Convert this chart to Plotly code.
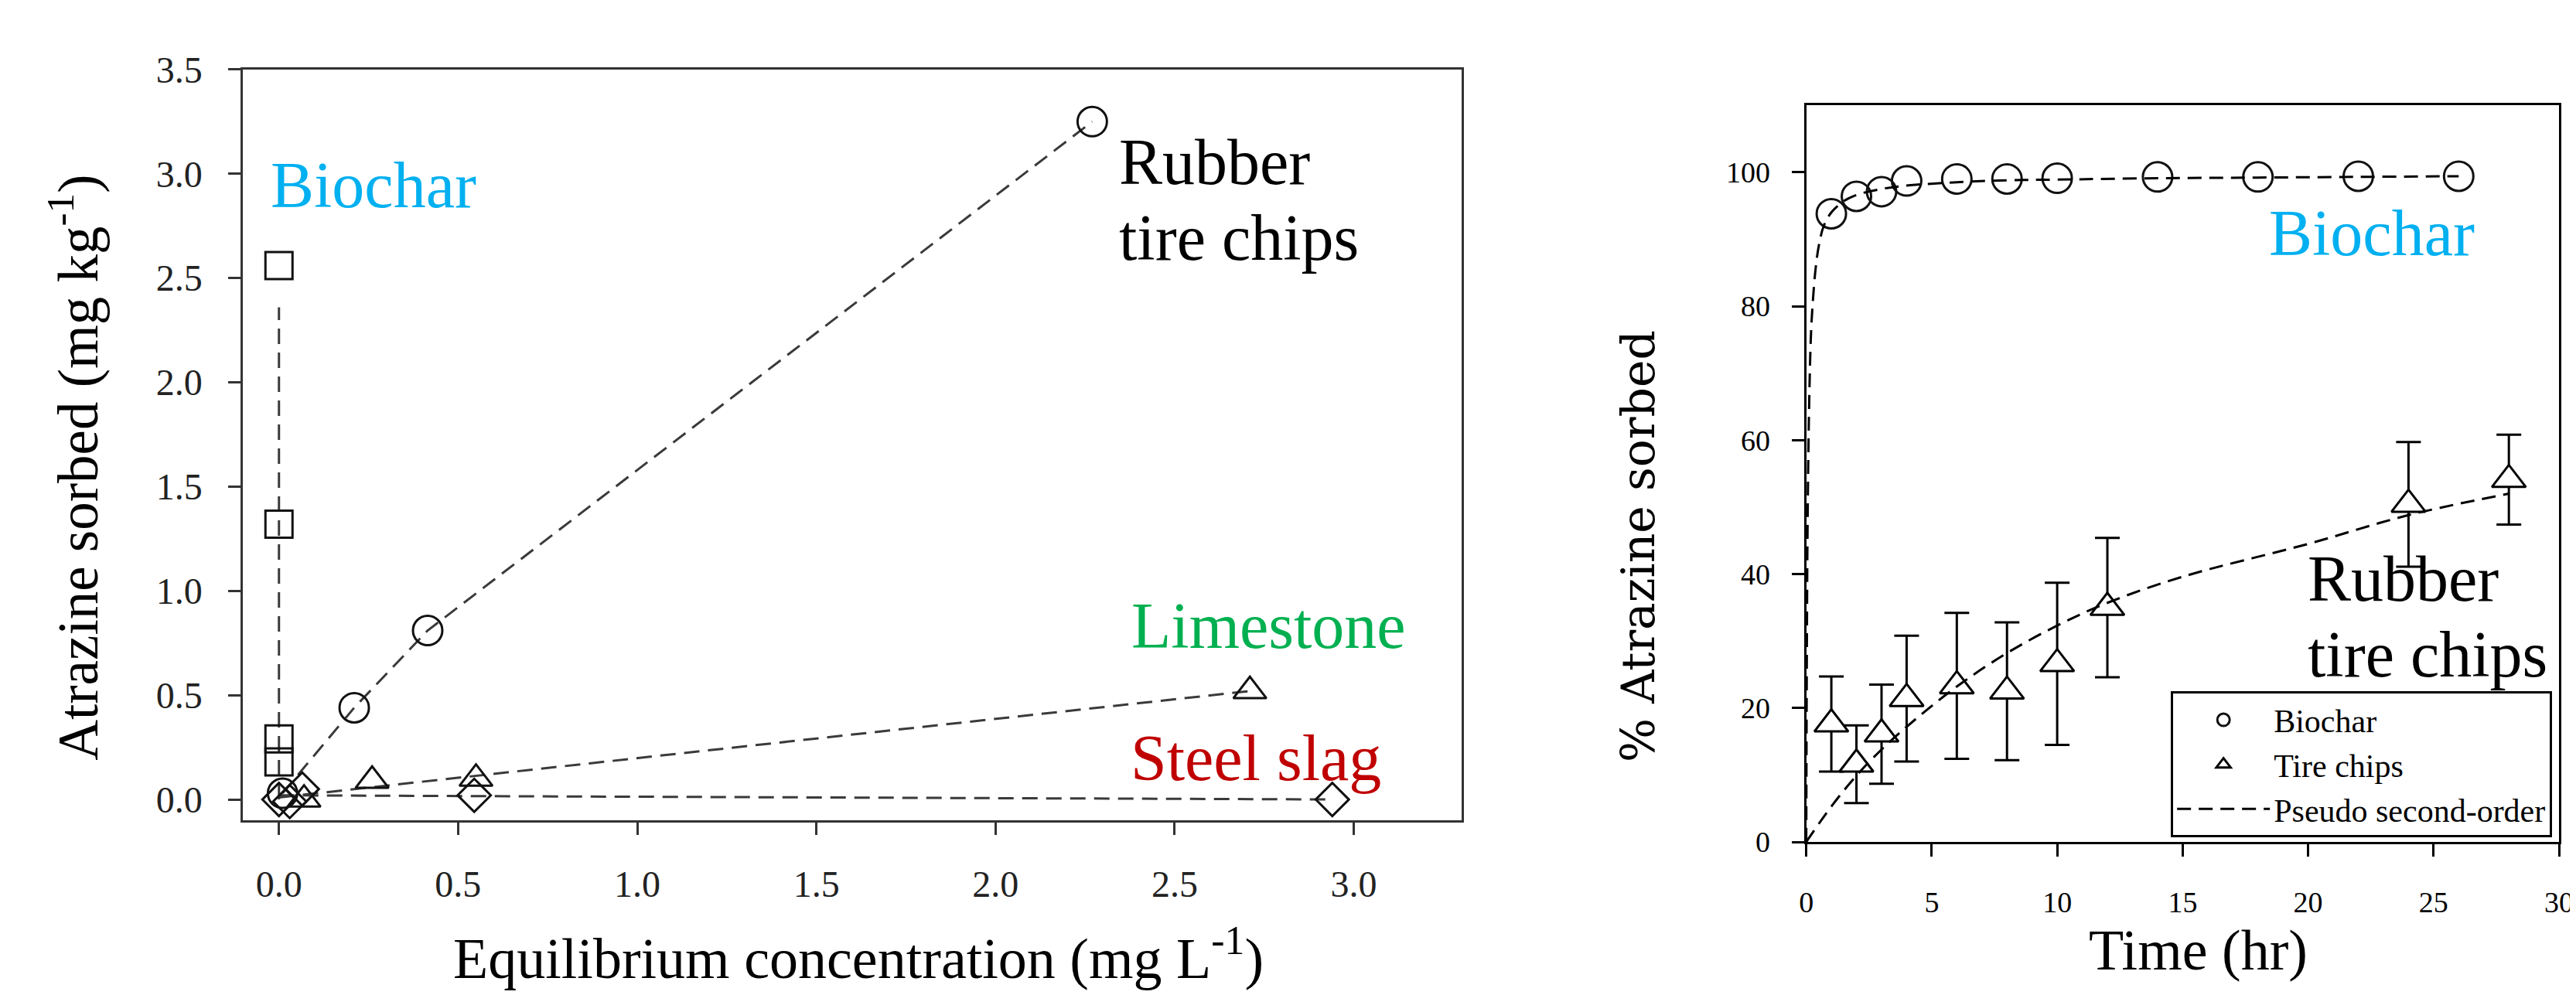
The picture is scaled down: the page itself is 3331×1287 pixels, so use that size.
import plotly.graph_objects as go

W, H = 3331, 1287

# ---------------- Left panel: sorption isotherms ----------------
bio_ce = [0.0, 0.0, 0.0, 0.0]
bio_q = [2.56, 1.32, 0.29, 0.18]
bio_fit_ce = [0.0, 0.0]
bio_fit_q = [0.0, 2.36]

rub_ce = [0.01, 0.21, 0.415, 2.27]
rub_q = [0.03, 0.44, 0.81, 3.25]

lime_ce = [0.07, 0.26, 0.55, 2.71]
lime_q = [0.0, 0.09, 0.10, 0.52]
lime_fit_ce = [0.0, 2.71]
lime_fit_q = [0.01, 0.52]

slag_ce = [0.0, 0.03, 0.065, 0.545, 2.94]
slag_q = [0.0, -0.01, 0.05, 0.02, 0.0]
slag_fit_ce = [0.0, 2.94]
slag_fit_q = [0.02, 0.0]

left_xticks = [0.0, 0.5, 1.0, 1.5, 2.0, 2.5, 3.0]
left_yticks = [0.0, 0.5, 1.0, 1.5, 2.0, 2.5, 3.0, 3.5]

# ---------------- Right panel: kinetics ----------------
t_bio = [1, 2, 3, 4, 6, 8, 10, 14, 18, 22, 26]
pct_bio = [93.8, 96.4, 97.1, 98.7, 99.0, 99.0, 99.1, 99.3, 99.3, 99.4, 99.4]

t_tire = [1, 2, 3, 4, 6, 8, 10, 12, 24, 28]
pct_tire = [17.6, 11.6, 16.1, 21.4, 23.3, 22.5, 26.6, 35.0, 50.4, 54.1]
err_tire = [7.1, 5.8, 7.4, 9.4, 10.9, 10.3, 12.1, 10.4, 9.3, 6.7]

t_bio_fit = [0, 0.02, 0.05, 0.1, 0.18, 0.25, 0.37, 0.5, 0.7, 1, 1.5, 2, 3, 4, 6, 8, 10, 14, 18, 22, 26]
pct_bio_fit = [0, 25, 46, 62, 75, 80, 85.5, 89, 92, 94, 95.7, 96.6, 97.5, 98.0, 98.5, 98.8, 98.9, 99.1, 99.2, 99.3, 99.4]

t_tire_fit = [0, 1, 2, 3, 4, 6, 8, 10, 12, 15, 20, 24, 28]
pct_tire_fit = [0, 5.3, 9.9, 13.8, 17.2, 23.2, 28.2, 32.3, 35.7, 39.6, 44.5, 48.8, 52.0]

right_xticks = [0, 5, 10, 15, 20, 25, 30]
right_yticks = [0, 20, 40, 60, 80, 100]

SERIF = "Liberation Serif"
CYAN, GREEN, RED = "#00B0F0", "#00B050", "#C00000"


def PX(x):
    return x / W


def PY(y):
    return 1 - y / H


fig = go.Figure()

dash_l = dict(color="#3a3a3a", width=3, dash="20px,11px")


def mk(sym, size):
    return dict(symbol=sym, size=size, color="#111", line=dict(color="#111", width=3))


# left traces
fig.add_trace(go.Scatter(x=bio_fit_ce, y=bio_fit_q, mode="lines", line=dash_l,
                         xaxis="x", yaxis="y", showlegend=False))
fig.add_trace(go.Scatter(x=bio_ce, y=bio_q, mode="markers", marker=mk("square-open", 35),
                         xaxis="x", yaxis="y", showlegend=False))
fig.add_trace(go.Scatter(x=rub_ce, y=rub_q, mode="lines+markers", line=dash_l,
                         marker=mk("circle-open", 38), xaxis="x", yaxis="y", showlegend=False))
fig.add_trace(go.Scatter(x=lime_fit_ce, y=lime_fit_q, mode="lines", line=dash_l,
                         xaxis="x", yaxis="y", showlegend=False))
fig.add_trace(go.Scatter(x=lime_ce, y=lime_q, mode="markers", marker=mk("triangle-up-open", 37),
                         xaxis="x", yaxis="y", showlegend=False))
fig.add_trace(go.Scatter(x=slag_fit_ce, y=slag_fit_q, mode="lines", line=dash_l,
                         xaxis="x", yaxis="y", showlegend=False))
fig.add_trace(go.Scatter(x=slag_ce, y=slag_q, mode="markers", marker=mk("diamond-open", 33),
                         xaxis="x", yaxis="y", showlegend=False))

# right traces
fig.add_trace(go.Scatter(x=t_bio, y=pct_bio, mode="markers", name="Biochar",
                         marker=mk("circle-open", 38), xaxis="x2", yaxis="y2"))
fig.add_trace(go.Scatter(x=t_tire, y=pct_tire, mode="markers", name="Tire chips",
                         marker=dict(symbol="triangle-up", size=38, color="white",
                                     line=dict(color="black", width=3)),
                         error_y=dict(type="data", array=err_tire, visible=True,
                                      color="black", thickness=3, width=16),
                         xaxis="x2", yaxis="y2"))
dash_r = dict(color="black", width=3, dash="18px,10px", shape="spline")
fig.add_trace(go.Scatter(x=t_bio_fit, y=pct_bio_fit, mode="lines", name="Pseudo second-order",
                         line=dash_r, xaxis="x2", yaxis="y2", legendgroup="fit"))
fig.add_trace(go.Scatter(x=t_tire_fit, y=pct_tire_fit, mode="lines", name="Pseudo second-order",
                         line=dash_r, xaxis="x2", yaxis="y2", legendgroup="fit", showlegend=False))

axis_common = dict(showgrid=False, zeroline=False, showline=True, mirror=True,
                   ticks="outside", ticklen=16, tickwidth=3, ticklabeloverflow="allow")

fig.update_layout(
    width=W, height=H,
    margin=dict(l=0, r=0, t=0, b=0),
    paper_bgcolor="white", plot_bgcolor="white",
    font=dict(family=SERIF, color="black"),
    xaxis=dict(domain=[PX(299), PX(1888)], range=[-0.1, 3.3], anchor="y",
               tickvals=left_xticks, tickformat=".1f", linecolor="#333", linewidth=3,
               tickcolor="#333", tickfont=dict(size=48, family=SERIF, color="#222"),
               ticklabelstandoff=22, **axis_common),
    yaxis=dict(domain=[PY(1066), PY(58)], range=[-0.1, 3.5], anchor="x",
               tickvals=left_yticks, tickformat=".1f", linecolor="#333", linewidth=3,
               tickcolor="#333", tickfont=dict(size=48, family=SERIF, color="#222"),
               ticklabelstandoff=24, **axis_common),
    xaxis2=dict(domain=[PX(2338), PX(3320)], range=[0, 30], anchor="y2",
                tickvals=right_xticks, linecolor="black", linewidth=3, tickcolor="black",
                tickfont=dict(size=38, family=SERIF), ticklabelstandoff=26, **axis_common),
    yaxis2=dict(domain=[PY(1095), PY(106)], range=[0, 110], anchor="x2",
                tickvals=right_yticks, linecolor="black", linewidth=3, tickcolor="black",
                tickfont=dict(size=38, family=SERIF), ticklabelstandoff=20, **axis_common),
    legend=dict(x=PX(3311), y=PY(1089), xanchor="right", yanchor="bottom",
                bordercolor="black", borderwidth=3, bgcolor="white",
                font=dict(size=42, family=SERIF), itemwidth=120,
                tracegroupgap=0),
)

ann = []
# axis titles
ann.append(dict(text="Atrazine sorbed (mg kg<sup>-1</sup>)", x=PX(78), y=PY(592), textangle=-90,
                font=dict(size=73, family=SERIF)))
ann.append(dict(text="Equilibrium concentration (mg L<sup>-1</sup>)", x=PX(1102), y=PY(1246),
                font=dict(size=74, family=SERIF)))
ann.append(dict(text="% Atrazine sorbed", x=PX(2118), y=PY(698), textangle=-90,
                font=dict(size=60, family="DejaVu Serif")))
ann.append(dict(text="Time (hr)", x=PX(2849), y=PY(1240), font=dict(size=74, family=SERIF)))
# series labels
ann.append(dict(text="Biochar", x=PX(333), y=PY(213), xanchor="left",
                font=dict(size=84, family=SERIF, color=CYAN)))
ann.append(dict(text="Rubber", x=PX(1440), y=PY(182), xanchor="left",
                font=dict(size=84, family=SERIF)))
ann.append(dict(text="tire chips", x=PX(1440), y=PY(284), xanchor="left",
                font=dict(size=84, family=SERIF)))
ann.append(dict(text="Limestone", x=PX(1456), y=PY(805), xanchor="left",
                font=dict(size=84, family=SERIF, color=GREEN)))
ann.append(dict(text="Steel slag", x=PX(1455), y=PY(982), xanchor="left",
                font=dict(size=84, family=SERIF, color=RED)))
ann.append(dict(text="Biochar", x=PX(2940), y=PY(278), xanchor="left",
                font=dict(size=84, family=SERIF, color=CYAN)))
ann.append(dict(text="Rubber", x=PX(2990), y=PY(742), xanchor="left",
                font=dict(size=84, family=SERIF)))
ann.append(dict(text="tire chips", x=PX(2990), y=PY(843), xanchor="left",
                font=dict(size=84, family=SERIF)))

for a in ann:
    a.update(xref="paper", yref="paper", showarrow=False)
    a.setdefault("xanchor", "center")
    a.setdefault("yanchor", "middle")
fig.update_layout(annotations=ann)

fig.write_html("out.html")
